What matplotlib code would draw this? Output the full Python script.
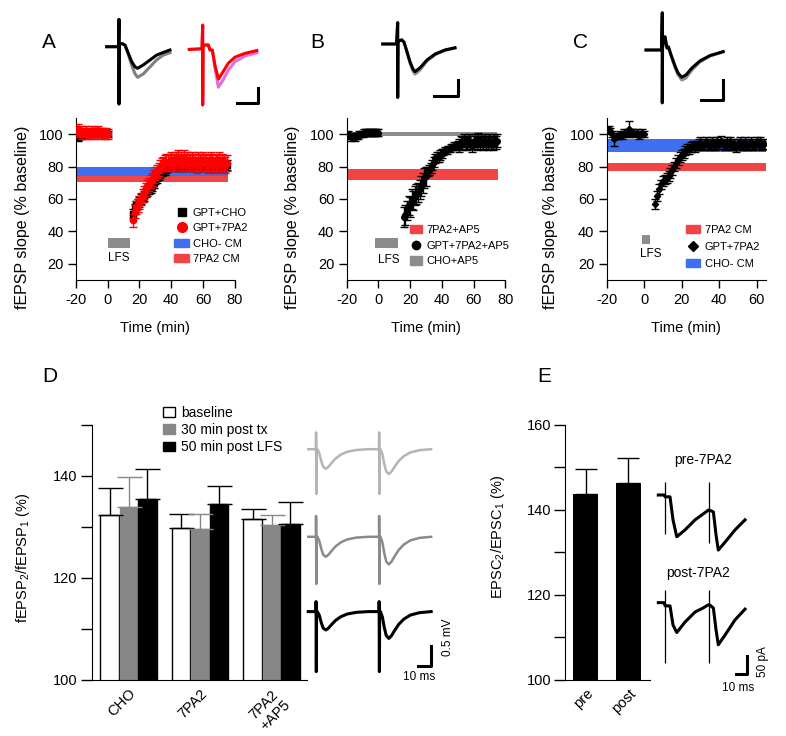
import numpy as np
import matplotlib
matplotlib.use('Agg')
import matplotlib.pyplot as plt
from matplotlib.lines import Line2D
from matplotlib.patches import Patch

plt.rcParams['font.family'] = ['Liberation Sans', 'DejaVu Sans']
plt.rcParams['mathtext.fontset'] = 'custom'
plt.rcParams['mathtext.rm'] = 'Liberation Sans'
plt.rcParams['mathtext.default'] = 'regular'
plt.rcParams['axes.unicode_minus'] = False

W, H = 786, 736

# ---------------- time courses (min, % baseline) ----------------
base_t = list(range(-19, 1))
post_t = list(range(16, 76))

a_cho = [98, 99, 99, 100, 100, 101, 100, 101, 100, 101, 101, 100, 102, 101, 100, 101, 101, 100, 101, 100,
         51, 54, 56, 57, 58, 60, 61, 62, 64, 65,
         66, 67, 68, 70, 72, 73, 75, 76, 77, 78,
         78, 79, 80, 80, 81, 80, 81, 82, 81, 80,
         81, 80, 82, 81, 80, 81, 82, 80, 81, 80,
         81, 82, 80, 81, 80, 82, 81, 80, 81, 82,
         80, 81, 82, 80, 81, 80, 82, 81, 80, 81]
a_cho_err = [2] * 20 + [3] * 60
a_7pa2 = [103, 101, 102, 100, 101, 102, 100, 101, 100, 102, 101, 100, 101, 102, 101, 100, 101, 100, 101, 100,
          47, 52, 55, 56, 58, 60, 62, 64, 66, 68,
          69, 71, 72, 74, 76, 77, 78, 80, 81, 82,
          82, 83, 82, 83, 84, 82, 83, 84, 85, 83,
          84, 82, 85, 83, 84, 82, 83, 84, 82, 83,
          81, 84, 83, 82, 84, 83, 82, 81, 83, 84,
          82, 81, 83, 82, 84, 81, 83, 82, 81, 82]
a_7pa2_err = [3] * 20 + [4] * 20 + [5] * 40
a_bands = {'CHO- CM': (74.5, 80.0), '7PA2 CM': (70.5, 74.5)}

b_ap5 = [100, 99, 98, 99, 98, 99, 99, 100, 100, 100, 101, 101, 101, 101, 101, 101, 101, 101, 101, 101,
         49, 50, 53, 56, 55, 60, 59, 62, 63, 64,
         66, 68, 70, 73, 74, 77, 78, 79, 81, 83,
         85, 86, 86, 87, 88, 89, 90, 90, 91, 91,
         92, 92, 93, 92, 94, 93, 95, 94, 96, 95,
         94, 96, 95, 93, 95, 96, 94, 97, 95, 96,
         94, 96, 95, 94, 96, 95, 94, 96, 95, 96]
b_ap5_err = [2] * 20 + [6] * 15 + [3] * 10 + [2] * 10 + [4] * 25
b_bands = {'7PA2+AP5': (71.5, 78.7), 'CHO+AP5': (99.0, 101.4)}

c_t = list(range(-19, 1)) + list(range(6, 65))
c_7pa2 = [103, 102, 100, 97, 99, 99, 100, 99, 101, 100, 101, 103, 101, 101, 100, 101, 99, 100, 101, 100,
          57, 62, 66, 69, 71, 72, 73, 74, 76, 78,
          80, 82, 84, 86, 87, 88, 90, 91, 91, 92,
          93, 92, 93, 94, 95, 93, 94, 95, 94, 93,
          95, 94, 93, 95, 94, 96, 94, 93, 95, 94,
          95, 93, 94, 92, 94, 95, 93, 94, 95, 93,
          94, 95, 93, 94, 95, 94, 95, 93, 94]
c_7pa2_err = [2, 2, 2, 4, 2, 2, 2, 2, 2, 2, 2, 5, 2, 2, 2, 2, 2, 2, 2, 2] + [3] * 59
c_bands = {'CHO- CM': (89.0, 97.3), '7PA2 CM': (77.2, 82.2)}

# ---------------- paired-pulse bars ----------------
d_groups = ['CHO', '7PA2', '7PA2\n+AP5']
d_baseline = [132.3, 129.8, 131.5]
d_baseline_err = [5.4, 2.8, 2.0]
d_post_tx = [133.9, 129.6, 130.3]
d_post_tx_err = [5.9, 3.0, 2.1]
d_post_lfs = [135.5, 134.4, 130.6]
d_post_lfs_err = [5.9, 3.7, 4.3]

e_groups = ['pre', 'post']
e_vals = [143.7, 146.4]
e_err = [5.9, 5.9]

# ---------------- example traces (ms, mV / pA) ----------------
a1_t = [1.55, 4.3, 4.4, 4.4, 4.45, 4.6, 5.2, 5.8, 6.55, 7.33, 8.1, 8.7, 10.0, 11.6, 13.1, 14.65, 16.2]
a1_post = [0, 0, 0.91, -1.91, 0.05, 0.1, 0.1, 0.05, -0.22, -0.5, -0.67, -0.72, -0.61, -0.44, -0.28, -0.19, -0.11]
a1_base = [0, 0, 0.91, -1.91, 0.05, 0.1, 0.1, 0.05, -0.25, -0.62, -0.9, -1.02, -0.91, -0.67, -0.44, -0.28, -0.2]
a2_t = [20.67, 23.6, 23.77, 23.77, 23.82, 24.0, 25.07, 25.46, 26.0, 26.6, 27.4, 28.5, 29.7, 31.25, 33.6, 36.3]
a2_post = [-0.09, -0.07, 0.72, -1.94, 0.0, 0.05, 0.06, -0.11, -0.11, -0.61, -1.08, -0.83, -0.55, -0.35, -0.22, -0.13]
a2_base = [-0.09, -0.07, 0.72, -1.94, 0.0, 0.05, 0.06, -0.11, -0.11, -0.7, -1.35, -1.11, -0.78, -0.5, -0.31, -0.2]

b_tr_t = [0.98, 3.85, 4.1, 4.1, 4.15, 4.3, 4.94, 5.42, 6.04, 6.67, 7.29, 7.71, 8.75, 10.2, 11.9, 13.96, 16.04]
b_tr_post = [0, 0, 0.68, -1.70, 0.05, 0.1, 0.13, 0.06, -0.25, -0.57, -0.8, -0.88, -0.76, -0.51, -0.32, -0.19, -0.12]
b_tr_base = [0, 0, 0.68, -1.70, 0.05, 0.1, 0.13, 0.06, -0.26, -0.6, -0.86, -0.96, -0.83, -0.54, -0.34, -0.2, -0.13]

c_tr_t = [1.36, 4.9, 5.07, 5.07, 5.12, 5.3, 5.68, 6.14, 6.48, 7.05, 7.95, 8.64, 9.48, 10.45, 11.8, 13.6, 15.9, 18.9]
c_tr_post = [0, 0, 0.93, -1.32, 0.05, 0.2, 0.33, 0.05, 0.075, -0.125, -0.4, -0.575, -0.68, -0.625, -0.45, -0.275, -0.14, -0.04]
c_tr_base = [0, 0, 0.93, -1.32, 0.05, 0.2, 0.33, 0.05, 0.075, -0.125, -0.43, -0.62, -0.75, -0.7, -0.5, -0.3, -0.15, -0.05]

# paired-pulse fEPSP: shape after each stimulus, and per-row (baseline, artifact top, artifact bottom, amp1, amp2)
pp_dt = [1.0, 2.5, 4.0, 5.5, 7.5, 9.5, 12, 15, 19, 24, 31, 40]
pp_shape = [0.0, -0.2, -0.6, -0.9, -1.0, -0.9, -0.7, -0.48, -0.28, -0.13, -0.04, 0.0]
pp_stim = [8.5, 57.0]
pp_rows = {'#b4b4b4': (5.77, 0.42, -1.12, 0.49, 0.62),
           '#8a8a8a': (3.58, 0.52, -1.18, 0.50, 0.69),
           'black': (1.71, 0.25, -1.50, 0.46, 0.67)}

e_tr_t = [7.8, 13.1, 14.2, 18.7, 21.5, 25.0, 32.7, 42.1, 49.5, 54.5, 55.6, 59.2, 61.7, 63.8, 70.1, 79.4, 88.8]
e_tr_pre = [0, 0, -5, -5, -69, -116, -97, -69, -53, -42, -42, -47, -111, -153, -131, -97, -69]
e_tr_post = [0, 0, -9, -9, -62, -83, -54, -26, -15, -6, -6, -15, -76, -117, -90, -48, -18]
e_stim = [14.0, 55.4]
e_art_pre = [(35, -108), (35, -132)]
e_art_post = [(35, -167), (35, -167)]
e_post_offset = -299

BLUE = '#3f6ff0'
RED_BAND = '#f24444'
GREY = '#8c8c8c'


def px_axes(fig, x0, y0, x1, y1):
    return fig.add_axes([x0 / W, 1 - y1 / H, (x1 - x0) / W, (y1 - y0) / H])


def time_axes(fig, x0, x1, xlim, xticks, label_x):
    ax = px_axes(fig, x0, 118, x1, 280)
    ax.set_xlim(*xlim)
    ax.set_ylim(10, 110)
    ax.set_xticks(xticks)
    ax.set_yticks([20, 40, 60, 80, 100])
    for s in ['top', 'right']:
        ax.spines[s].set_visible(False)
    ax.tick_params(length=6, width=1, labelsize=10.5, pad=3)
    ax.set_xlabel('Time (min)', fontsize=10.5)
    ax.xaxis.set_label_coords(0.5, -0.255)
    ax.set_ylabel('fEPSP slope (% baseline)', fontsize=11.5)
    ax.yaxis.set_label_coords(label_x, 0.39)
    return ax


def band(ax, lims, t0, t1, color):
    ax.fill_between([t0, t1], lims[0], lims[1], color=color, lw=0, zorder=1)


def lfs(ax, t0, t1, v0, v1, tx, ty):
    ax.fill_between([t0, t1], v0, v1, color=GREY, lw=0, zorder=1)
    ax.text(tx, ty, 'LFS', ha='center', va='center', fontsize=8.5)


def trace_axes(fig, x0, y0, x1, y1, xlim, ylim):
    ax = px_axes(fig, x0, y0, x1, y1)
    ax.set_xlim(*xlim)
    ax.set_ylim(*ylim)
    ax.axis('off')
    return ax


def pp_trace(row):
    base, top, bot, amp1, amp2 = row
    t, v = [2.5], [base]
    for t_s, amp in zip(pp_stim, (amp1, amp2)):
        t += [t_s, t_s, t_s + 0.2, t_s + 0.4]
        v += [base, base + top, base + bot, base]
        t += [t_s + d for d in pp_dt]
        v += [base + amp * s for s in pp_shape]
    return t, v


fig = plt.figure(figsize=(W / 100, H / 100), dpi=100)

# ---------------- A ----------------
ax = time_axes(fig, 76, 234.7, (-20, 80), [-20, 0, 20, 40, 60, 80], -0.29)
band(ax, a_bands['CHO- CM'], -20, 75.5, BLUE)
band(ax, a_bands['7PA2 CM'], -20, 75.5, RED_BAND)
lfs(ax, 0, 14, 30, 36, 7, 23.5)
a_t = base_t + post_t
ax.errorbar(a_t, a_cho, yerr=a_cho_err, fmt='s', color='black', ms=4, capsize=3,
            elinewidth=1, capthick=1, zorder=2)
ax.errorbar(a_t, a_7pa2, yerr=a_7pa2_err, fmt='o', color='red', ms=4.5, capsize=3,
            elinewidth=1, capthick=1, zorder=3)
handles = [Line2D([], [], marker='s', color='black', ls='none', ms=6),
           Line2D([], [], marker='o', color='red', ls='none', ms=7),
           Patch(color=BLUE), Patch(color=RED_BAND)]
ax.legend(handles, ['GPT+CHO', 'GPT+7PA2', 'CHO- CM', '7PA2 CM'], loc='upper left',
          bbox_to_anchor=(0.62, 0.447), frameon=False, fontsize=8, handlelength=1.3,
          handleheight=0.75, handletextpad=0.35, labelspacing=0.5, borderpad=0, borderaxespad=0)

# ---------------- B ----------------
ax = time_axes(fig, 346.7, 505.2, (-20, 80), [-20, 0, 20, 40, 60, 80], -0.295)
band(ax, b_bands['7PA2+AP5'], -20, 75.5, RED_BAND)
band(ax, b_bands['CHO+AP5'], -20, 75, GREY)
lfs(ax, -2, 12.6, 30, 36, 6.7, 22.5)
ax.errorbar(a_t, b_ap5, yerr=b_ap5_err, fmt='o', color='black', ms=4, capsize=3,
            elinewidth=1, capthick=1, zorder=2)
handles = [Patch(color=RED_BAND),
           Line2D([], [], marker='o', color='black', ls='none', ms=6),
           Patch(color=GREY)]
ax.legend(handles, ['7PA2+AP5', 'GPT+7PA2+AP5', 'CHO+AP5'], loc='upper left',
          bbox_to_anchor=(0.40, 0.338), frameon=False, fontsize=8, handlelength=1.05,
          handleheight=0.75, handletextpad=0.4, labelspacing=0.5, borderpad=0, borderaxespad=0)

# ---------------- C ----------------
ax = time_axes(fig, 606.7, 766.1, (-20, 65), [-20, 0, 20, 40, 60], -0.305)
band(ax, c_bands['CHO- CM'], -20, 65, BLUE)
band(ax, c_bands['7PA2 CM'], -20, 65, RED_BAND)
lfs(ax, -1, 3, 32.5, 38, 3.5, 26.2)
ax.errorbar(c_t, c_7pa2, yerr=c_7pa2_err, fmt='D', color='black', ms=3.2, capsize=3,
            elinewidth=1, capthick=1, zorder=2)
handles = [Patch(color=RED_BAND),
           Line2D([], [], marker='D', color='black', ls='none', ms=5),
           Patch(color=BLUE)]
ax.legend(handles, ['7PA2 CM', 'GPT+7PA2', 'CHO- CM'], loc='upper left',
          bbox_to_anchor=(0.497, 0.338), frameon=False, fontsize=8, handlelength=1.3,
          handleheight=0.75, handletextpad=0.4, labelspacing=0.62, borderpad=0, borderaxespad=0)

# ---------------- top example traces ----------------
tax = trace_axes(fig, 100, 15, 262, 108, (0, 37.5), (-2.043, 1.057))
tax.plot(a1_t, a1_base, color='#808080', lw=2.2, solid_joinstyle='round')
tax.plot(a1_t, a1_post, color='black', lw=2.2, solid_joinstyle='round')
tax.plot(a2_t, a2_base, color='#e070e0', lw=2.2, solid_joinstyle='round')
tax.plot(a2_t, a2_post, color='red', lw=2.2, solid_joinstyle='round')
tax.plot([31.6, 36.6, 36.6], [-1.89, -1.89, -1.39], color='black', lw=2.2)

tax = trace_axes(fig, 378, 18, 462, 100, (0, 17.5), (-1.783, 0.828))
tax.plot(b_tr_t, b_tr_base, color='#909090', lw=2.2, solid_joinstyle='round')
tax.plot(b_tr_t, b_tr_post, color='black', lw=2.2, solid_joinstyle='round')
tax.plot([11.73, 16.73, 16.73], [-1.65, -1.65, -1.15], color='black', lw=2.2)

tax = trace_axes(fig, 640, 8, 728, 106, (0, 20), (-1.4, 1.05))
tax.plot(c_tr_t, c_tr_base, color='#909090', lw=2.2, solid_joinstyle='round')
tax.plot(c_tr_t, c_tr_post, color='black', lw=2.2, solid_joinstyle='round')
tax.plot([13.8, 18.8, 18.8], [-1.25, -1.25, -0.75], color='black', lw=2.2)

# ---------------- D ----------------
ax = px_axes(fig, 91.7, 425, 306.7, 679.5)
x = np.arange(len(d_groups))
wbar = 0.255
kw = dict(capsize=9, error_kw=dict(elinewidth=1, capthick=1))
ax.bar(x - 0.267, d_baseline, wbar, color='white', edgecolor='black', lw=1,
       yerr=[[0] * 3, d_baseline_err], ecolor='black', label='baseline', **kw)
ax.bar(x, d_post_tx, wbar, color='#878787', edgecolor='#878787', lw=1,
       yerr=[[0] * 3, d_post_tx_err], ecolor='#878787', label='30 min post tx', **kw)
ax.bar(x + 0.262, d_post_lfs, wbar, color='black', edgecolor='black', lw=1,
       yerr=[[0] * 3, d_post_lfs_err], ecolor='black', label='50 min post LFS', **kw)
ax.set_xlim(-0.517, 2.49)
ax.set_ylim(100, 150)
ax.set_yticks([100, 110, 120, 130, 140, 150])
ax.set_yticklabels(['100', '', '120', '', '140', ''])
ax.set_xticks(x)
ax.set_xticklabels(d_groups, rotation=45, rotation_mode='anchor', ha='right', va='top',
                   multialignment='left')
ax.tick_params(axis='x', length=0, pad=5, labelsize=10.5)
ax.tick_params(axis='y', length=8, width=1, labelsize=10.5, pad=2)
for s in ['top', 'right']:
    ax.spines[s].set_visible(False)
ax.set_ylabel('fEPSP$_2$/fEPSP$_1$ (%)', fontsize=10.5)
ax.yaxis.set_label_coords(-0.278, 0.48)
ax.legend(loc='upper left', bbox_to_anchor=(0.33, 1.075), frameon=False, fontsize=10,
          handlelength=0.9, handleheight=0.65, handletextpad=0.45, labelspacing=0.22,
          borderpad=0, borderaxespad=0)

tax = trace_axes(fig, 305, 425, 450, 680, (0, 111.5), (0, 6.375))
for col, row in pp_rows.items():
    tt, vv = pp_trace(row)
    tax.plot(tt, vv, color=col, lw=1.8 if col != 'black' else 2.2, solid_joinstyle='round')
tax.plot([87.2, 97.2, 97.2], [0.34, 0.34, 0.84], color='black', lw=2.2)
fig.text(419 / W, 1 - 677 / H, '10 ms', ha='center', va='center', fontsize=8.5)
fig.text(448 / W, 1 - 637 / H, '0.5 mV', ha='center', va='center', fontsize=8.5, rotation=90)

# ---------------- E ----------------
ax = px_axes(fig, 565, 425, 650, 679.5)
xe = np.arange(len(e_groups))
ax.bar(xe, e_vals, 0.59, color='black', yerr=[[0, 0], e_err], ecolor='black', capsize=8,
       error_kw=dict(elinewidth=1, capthick=1))
ax.set_xlim(-0.49, 1.51)
ax.set_ylim(100, 160)
ax.set_yticks([100, 110, 120, 130, 140, 150, 160])
ax.set_yticklabels(['100', '', '120', '', '140', '', '160'])
ax.set_xticks(xe)
ax.set_xticklabels(e_groups, rotation=45, rotation_mode='anchor', ha='right', va='top')
ax.tick_params(axis='x', length=0, pad=5, labelsize=10.5)
ax.tick_params(axis='y', length=8, width=1, labelsize=10.5, pad=2)
for s in ['top', 'right']:
    ax.spines[s].set_visible(False)
ax.set_ylabel('EPSC$_2$/EPSC$_1$ (%)', fontsize=10.5)
ax.yaxis.set_label_coords(-0.68, 0.56)

tax = trace_axes(fig, 650, 475, 770, 680, (0, 112.1), (-513.9, 55.6))
tax.plot(e_tr_t, e_tr_pre, color='black', lw=2.2, solid_joinstyle='round')
tax.plot(e_tr_t, [v + e_post_offset for v in e_tr_post], color='black', lw=2.2,
         solid_joinstyle='round')
for t_s, (top, bot) in zip(e_stim, e_art_pre):
    tax.vlines(t_s, bot, top, color='black', lw=0.9)
for t_s, (top, bot) in zip(e_stim, e_art_post):
    tax.vlines(t_s, bot + e_post_offset, top + e_post_offset, color='black', lw=0.9)
tax.plot([80.4, 90.4, 90.4], [-497, -497, -447], color='black', lw=2.2)
fig.text(703 / W, 1 - 460 / H, 'pre-7PA2', ha='center', va='center', fontsize=10)
fig.text(698 / W, 1 - 573 / H, 'post-7PA2', ha='center', va='center', fontsize=10)
fig.text(738 / W, 1 - 688 / H, '10 ms', ha='center', va='center', fontsize=8.5)
fig.text(763 / W, 1 - 662 / H, '50 pA', ha='center', va='center', fontsize=8.5, rotation=90)

# ---------------- panel letters ----------------
for lab, (px, py) in {'A': (48.7, 42.5), 'B': (317, 42.5), 'C': (580, 42.5),
                      'D': (50, 376), 'E': (544, 376)}.items():
    fig.text(px / W, 1 - py / H, lab, ha='center', va='center', fontsize=15)

fig.savefig('out.png', dpi=100)
